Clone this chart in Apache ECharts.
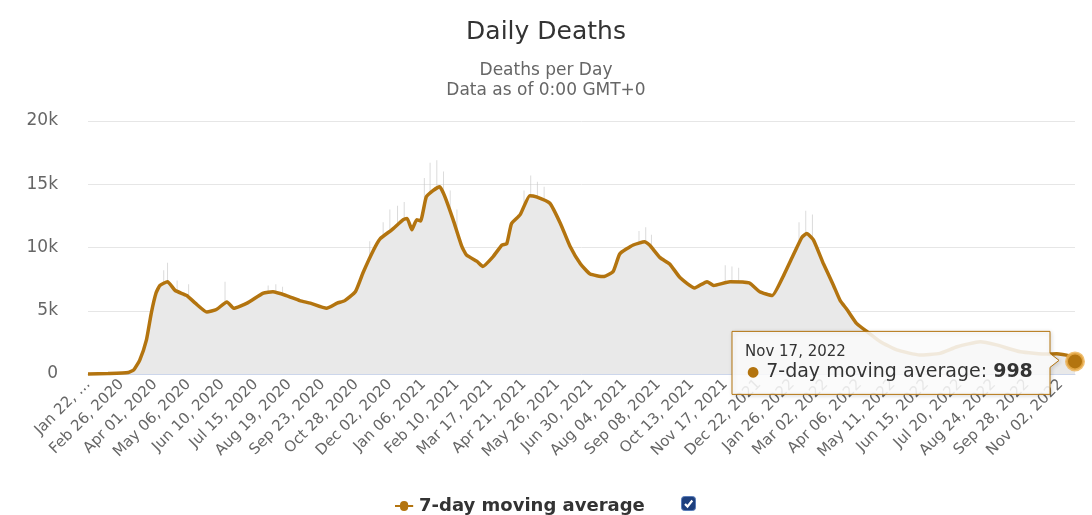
<!DOCTYPE html>
<html>
<head>
<meta charset="utf-8">
<script src="https://cdn.jsdelivr.net/npm/echarts@6/dist/echarts.min.js"></script>
<style>
  html, body { margin: 0; padding: 0; background: #ffffff; }
  #chart { width: 1092px; height: 515px; }
</style>
</head>
<body>
<div id="chart"></div>
<script>
// Date range of the daily category axis
const firstDay = '2020-01-22';
const lastDay = '2022-11-17';

// 7-day moving average of daily deaths, sampled at dates
const maDates = [
  '2020-01-22', '2020-02-12', '2020-03-04', '2020-03-10', '2020-03-16', '2020-03-23', '2020-03-28',
  '2020-04-02', '2020-04-06', '2020-04-14', '2020-04-22', '2020-05-04', '2020-05-13', '2020-05-25',
  '2020-06-04', '2020-06-15', '2020-06-22', '2020-07-06', '2020-07-23', '2020-08-02', '2020-08-16',
  '2020-08-30', '2020-09-10', '2020-09-27', '2020-10-08', '2020-10-16', '2020-10-27', '2020-11-04',
  '2020-11-15', '2020-11-22', '2020-12-04', '2020-12-16', '2020-12-20', '2020-12-25', '2020-12-30',
  '2021-01-03', '2021-01-09', '2021-01-16', '2021-01-23', '2021-01-28', '2021-02-06', '2021-02-15',
  '2021-02-20', '2021-03-03', '2021-03-09', '2021-03-20', '2021-03-29', '2021-04-03', '2021-04-08',
  '2021-04-17', '2021-04-27', '2021-05-04', '2021-05-18', '2021-05-29', '2021-06-08', '2021-06-19',
  '2021-06-29', '2021-07-13', '2021-07-23', '2021-07-30', '2021-08-13', '2021-08-25', '2021-08-30',
  '2021-09-10', '2021-09-20', '2021-10-01', '2021-10-16', '2021-10-29', '2021-11-05', '2021-11-22',
  '2021-12-12', '2021-12-23', '2022-01-05', '2022-01-17', '2022-01-27', '2022-02-05', '2022-02-10',
  '2022-02-17', '2022-02-27', '2022-03-10', '2022-03-17', '2022-03-24', '2022-04-03', '2022-04-14',
  '2022-04-28', '2022-05-15', '2022-06-08', '2022-06-29', '2022-07-17', '2022-08-10', '2022-08-27',
  '2022-09-21', '2022-10-19', '2022-10-29', '2022-11-10', '2022-11-17'
];
const maValues = [
  2, 40, 120, 350, 1100, 2700, 4800,
  6400, 7000, 7300, 6600, 6200, 5600, 4900,
  5100, 5700, 5200, 5600, 6400, 6500, 6200,
  5800, 5600, 5200, 5600, 5800, 6500, 8000,
  9800, 10700, 11400, 12200, 12300, 11400, 12200,
  12100, 14000, 14500, 14800, 14100, 12200, 10100,
  9400, 8900, 8500, 9300, 10200, 10300, 11900,
  12600, 14100, 14000, 13500, 11900, 10100, 8700,
  7900, 7700, 8100, 9500, 10200, 10450, 10200,
  9200, 8700, 7600, 6800, 7300, 7000, 7300,
  7200, 6500, 6200, 7800, 9400, 10800, 11100,
  10600, 8800, 7000, 5800, 5100, 4000, 3350,
  2550, 1900, 1500, 1630, 2150, 2550, 2300,
  1760, 1580, 1600, 1450, 998
];

// Daily reported deaths on the highest reporting days
const spikeDates = [
  '2020-04-10', '2020-04-14', '2020-04-24', '2020-05-06', '2020-06-13', '2020-07-28', '2020-08-05',
  '2020-08-12', '2020-11-11', '2020-11-25', '2020-12-02', '2020-12-10', '2020-12-17', '2021-01-07',
  '2021-01-13', '2021-01-20', '2021-01-27', '2021-02-03', '2021-02-10', '2021-04-21', '2021-04-28',
  '2021-05-05', '2021-05-12', '2021-08-19', '2021-08-26', '2021-09-01', '2021-11-17', '2021-11-24',
  '2021-12-01', '2022-02-02', '2022-02-09', '2022-02-16'
];
const spikeValues = [
  8200, 8800, 7400, 7100, 7300, 7000, 7100,
  6900, 10500, 12000, 13000, 13300, 13600, 15500,
  16700, 16900, 16000, 14500, 13000, 14500, 15700,
  15200, 14800, 11300, 11600, 11000, 8600, 8500,
  8400, 12000, 12900, 12600
];

const MONTHS = ['Jan', 'Feb', 'Mar', 'Apr', 'May', 'Jun', 'Jul', 'Aug', 'Sep', 'Oct', 'Nov', 'Dec'];
const fmtDate = d => MONTHS[d.getUTCMonth()] + ' ' + String(d.getUTCDate()).padStart(2, '0') + ', ' + d.getUTCFullYear();
const dayLabel = iso => fmtDate(new Date(iso + 'T00:00:00Z'));

// One category per day
const categories = [];
for (let t = Date.parse(firstDay + 'T00:00:00Z'); t <= Date.parse(lastDay + 'T00:00:00Z'); t += 86400000) {
  categories.push(fmtDate(new Date(t)));
}

const FONT = '"DejaVu Sans", Verdana, sans-serif';
const LINE_COLOR = '#b3740f';
const lastIdx = maValues.length - 1;

const chart = echarts.init(document.getElementById('chart'), null, { renderer: 'canvas' });

chart.setOption({
  animation: false,
  backgroundColor: '#ffffff',
  title: {
    text: 'Daily Deaths',
    subtext: 'Deaths per Day\nData as of 0:00 GMT+0',
    left: 'center',
    top: 15,
    itemGap: 16,
    textStyle: { fontFamily: FONT, fontSize: 25, fontWeight: 'normal', color: '#333333' },
    subtextStyle: { fontFamily: FONT, fontSize: 17, color: '#666666', lineHeight: 20 }
  },
  legend: {
    data: [{
      name: '7-day moving average',
      icon: 'path://M0,4 H5.5 A4.5,4.5 0 0 1 14.5,4 H20 V6 H14.5 A4.5,4.5 0 0 1 5.5,6 H0 Z',
      itemStyle: { color: LINE_COLOR, borderWidth: 0 }
    }],
    left: 390,
    top: 492,
    itemWidth: 20,
    itemHeight: 10,
    selectedMode: false,
    textStyle: { fontFamily: FONT, fontSize: 18, fontWeight: 'bold', color: '#333333' }
  },
  grid: { left: 88, right: 17, top: 121, bottom: 141 },
  xAxis: {
    type: 'category',
    data: categories,
    boundaryGap: false,
    axisLine: { lineStyle: { color: '#ccd6eb' } },
    axisTick: { show: false },
    axisLabel: {
      interval: 34,
      rotate: 45,
      margin: 8,
      fontFamily: FONT,
      fontSize: 15,
      color: '#666666',
      formatter: (v, i) => (i === 0 ? v.slice(0, 7) + ' …' : v)
    },
    splitLine: { show: false }
  },
  yAxis: {
    type: 'value',
    min: 0,
    max: 20000,
    interval: 5000,
    axisLine: { show: false },
    axisTick: { show: false },
    axisLabel: {
      margin: 30,
      fontFamily: FONT,
      fontSize: 17,
      color: '#666666',
      formatter: v => (v === 0 ? '0' : v / 1000 + 'k')
    },
    splitLine: { lineStyle: { color: '#e6e6e6' } }
  },
  series: [
    {
      name: 'Daily deaths',
      type: 'bar',
      data: spikeDates.map((d, i) => [dayLabel(d), spikeValues[i]]),
      barWidth: 1,
      itemStyle: { color: 'rgba(195,195,195,0.6)' },
      silent: true,
      z: 1
    },
    {
      name: '7-day moving average',
      type: 'line',
      data: maDates.map((d, i) => [dayLabel(d), maValues[i]]),
      symbol: 'circle',
      showSymbol: true,
      showAllSymbol: true,
      // only the latest (hovered) point carries a marker
      symbolSize: (val, params) => (params.dataIndex === lastIdx ? 17 : 0),
      clip: false,
      smooth: 0.15,
      lineStyle: { color: LINE_COLOR, width: 3.5 },
      itemStyle: { color: LINE_COLOR, borderColor: 'rgba(236,176,80,0.8)', borderWidth: 3 },
      areaStyle: { color: '#e9e9e9', opacity: 1 },
      silent: true,
      z: 2
    }
  ]
});

// Hover callout for the latest value, anchored to the last point
const lastDayIdx = categories.indexOf(dayLabel(maDates[lastIdx]));
const pt = chart.convertToPixel({ gridIndex: 0 }, [lastDayIdx, maValues[lastIdx]]);
const bx1 = pt[0] - 25, by0 = pt[1] - 30, by1 = pt[1] + 33, bx0 = pt[0] - 343;

chart.setOption({
  graphic: [
    {
      type: 'polygon',
      z: 100,
      shape: {
        points: [[bx0, by0], [bx1, by0], [bx1, pt[1] - 8], [pt[0] - 16, pt[1] - 1], [bx1, pt[1] + 6], [bx1, by1], [bx0, by1]]
      },
      style: {
        fill: 'rgba(255,255,255,0.86)',
        stroke: LINE_COLOR,
        lineWidth: 1,
        shadowBlur: 4,
        shadowOffsetX: 1,
        shadowOffsetY: 1,
        shadowColor: 'rgba(0,0,0,0.15)'
      }
    },
    {
      type: 'text',
      z: 101,
      left: bx0 + 13,
      top: by0 + 13,
      style: { text: dayLabel(maDates[lastIdx]), font: '15px ' + FONT, fill: '#333333' }
    },
    {
      type: 'text',
      z: 101,
      left: bx0 + 15,
      top: by0 + 31,
      style: {
        text: '{dot|●}{lbl|7-day moving average: }{val|' + maValues[lastIdx] + '}',
        rich: {
          dot: { fontFamily: FONT, fontSize: 14, fill: LINE_COLOR, padding: [1, 7, 0, 0] },
          lbl: { fontFamily: FONT, fontSize: 19, fill: '#333333' },
          val: { fontFamily: FONT, fontSize: 19, fontWeight: 'bold', fill: '#333333' }
        }
      }
    },
    {
      type: 'group',
      z: 101,
      left: 681,
      top: 496,
      children: [
        { type: 'rect', shape: { x: 0, y: 0, width: 14, height: 14, r: 3 }, style: { fill: '#1d3f7e', stroke: '#5a7cb8', lineWidth: 1 } },
        { type: 'polyline', shape: { points: [[3.5, 7.5], [6, 10], [10.8, 4]] }, style: { stroke: '#ffffff', lineWidth: 2.2, fill: null } }
      ]
    }
  ]
});
</script>
</body>
</html>
